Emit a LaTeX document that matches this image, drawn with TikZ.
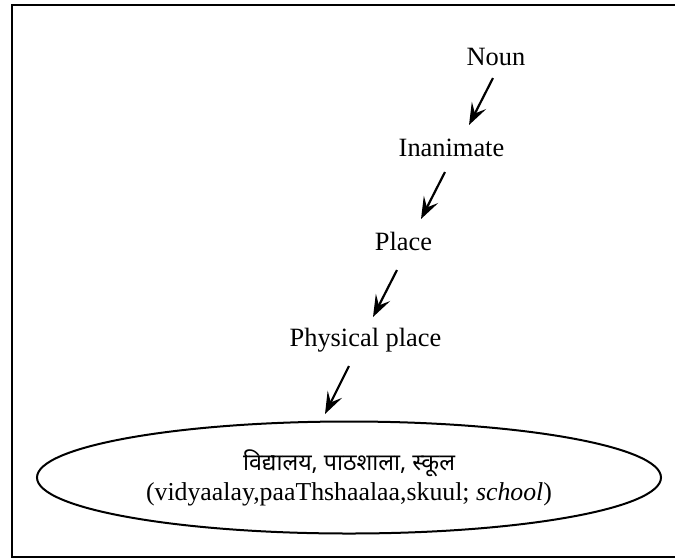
\documentclass[tikz,border=0pt]{standalone}
\usepackage{fontspec}
\setmainfont{Liberation Serif}
\newfontfamily\devfont[Script=Devanagari]{Noto Sans}
\usetikzlibrary{shapes.geometric,arrows.meta}

\begin{document}
\begin{tikzpicture}[x=0.5pt,y=-0.5pt,
	arr/.style={line width=1.1pt, -{Stealth[length=11pt,width=8pt,inset=4.5pt]}},
	lbl/.style={anchor=base, inner sep=0pt, font=\fontsize{13.2}{15}\selectfont}]

\useasboundingbox (0,0) rectangle (675,559);
\draw[line width=0.8pt] (678,5) -- (12,5) -- (12,557) -- (678,557);

\node[lbl] (noun) at (496,65) {Noun};
\node[lbl] (inan) at (451.5,156) {Inanimate};
\node[lbl] (place) at (403.5,250) {Place};
\node[lbl] (phys) at (365.5,346) {Physical place};
\node[draw, ellipse, line width=1pt, minimum width=312pt, minimum height=56pt,
	inner sep=0pt, align=center, font=\fontsize{12.9}{15}\selectfont] (word) at (349,477.5)
	{{\devfont\fontsize{11.6}{15}\selectfont विद्यालय, पाठशाला, स्कूल}\\(vidyaalay,paaThshaalaa,skuul; \textit{school})};

\draw[arr] ([shift={(-3,13)}]noun.base) -- ([shift={(17.5,-31)}]inan.base);
\draw[arr] ([shift={(-6.5,16)}]inan.base) -- ([shift={(17.5,-31)}]place.base);
\draw[arr] ([shift={(-6.5,20)}]place.base) -- ([shift={(7.5,-29)}]phys.base);
\draw[arr] ([shift={(-16.5,20)}]phys.base) -- ([shift={(-24,-63.5)}]word.center);
\end{tikzpicture}
\end{document}
